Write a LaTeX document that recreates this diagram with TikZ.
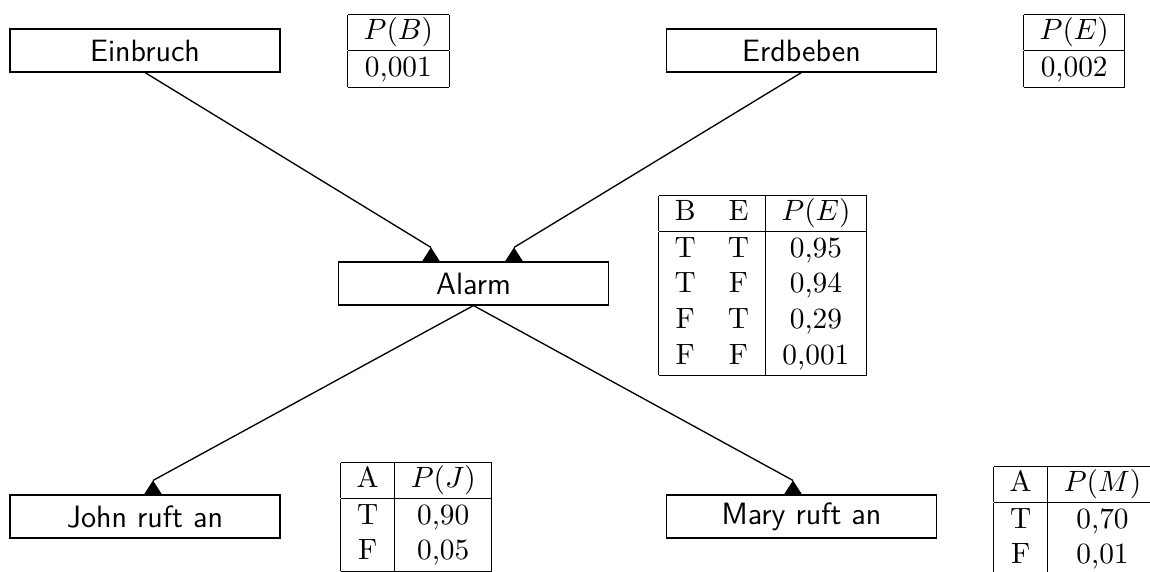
\documentclass[tikz,border=0pt]{standalone}
\usetikzlibrary{calc}
\tikzset{
  every picture/.style={x=0.373pt,y=-0.373pt},
  varbox/.style={draw, line width=0.45pt, minimum width=100.7pt, minimum height=16pt,
    inner sep=0pt, font=\fontsize{11.5}{13.8}\selectfont\sffamily},
  cpt/.style={inner sep=0pt, anchor=north west, font=\fontsize{10.95}{13.3}\selectfont},
  edge/.style={line width=0.5pt},
  tipmark/.style={fill=black},
}
% upward triangle whose base sits on the given coordinate
\newcommand{\uptip}[1]{\fill[tipmark] (#1) ++(-9,0) -- ++(18,0) -- ++(-9,-14) -- cycle;}
\begin{document}
\begin{tikzpicture}
  \useasboundingbox (0,0) rectangle (1150,572);

  % variables
  \node[varbox] (burg)  at (145,50.5)   {Einbruch};
  \node[varbox] (quake) at (801.5,50.5) {Erdbeben};
  \node[varbox] (alarm) at (473.5,283.5) {Alarm};
  \node[varbox] (john)  at (145,516.5)  {John ruft an};
  \node[varbox] (mary)  at (801.5,516.5) {Mary ruft an};

  % probability tables
  \node[cpt] (tb) at (347,13) {\begin{tabular}{|c|}\hline $P(B)$\\\hline 0,001\\\hline\end{tabular}};
  \node[cpt] (te) at (1023,13) {\begin{tabular}{|c|}\hline $P(E)$\\\hline 0,002\\\hline\end{tabular}};
  \node[cpt] (ta) at (658,194) {\begin{tabular}{|cc|c|}\hline
      B & E & $P(E)$\\\hline
      T & T & 0,95\\
      T & F & 0,94\\
      F & T & 0,29\\
      F & F & 0,001\\\hline\end{tabular}};
  \node[cpt] (tj) at (340,461) {\begin{tabular}{|c|c|}\hline
      A & $P(J)$\\\hline
      T & 0,90\\
      F & 0,05\\\hline\end{tabular}};
  \node[cpt] (tm) at (993,465) {\begin{tabular}{|c|c|}\hline
      A & $P(M)$\\\hline
      T & 0,70\\
      F & 0,01\\\hline\end{tabular}};

  % arrow heads on the receiving boxes
  \coordinate (inB) at ($(alarm.north)+(-42.5,0)$);
  \coordinate (inE) at ($(alarm.north)+(40.5,0)$);
  \coordinate (inJ) at ($(john.north)+(8,0)$);
  \coordinate (inM) at ($(mary.north)+(-8.5,0)$);
  \coordinate (apB) at ($(inB)+(0,-14)$);
  \coordinate (apE) at ($(inE)+(0,-14)$);
  \coordinate (apJ) at ($(inJ)+(0,-14)$);
  \coordinate (apM) at ($(inM)+(0,-14)$);
  \uptip{inB}
  \uptip{inE}
  \uptip{inJ}
  \uptip{inM}

  % connectors
  \draw[edge] (burg.south)  -- (apB);
  \draw[edge] (quake.south) -- (apE);
  \draw[edge] (alarm.south) -- (apJ);
  \draw[edge] (alarm.south) -- (apM);
\end{tikzpicture}
\end{document}
